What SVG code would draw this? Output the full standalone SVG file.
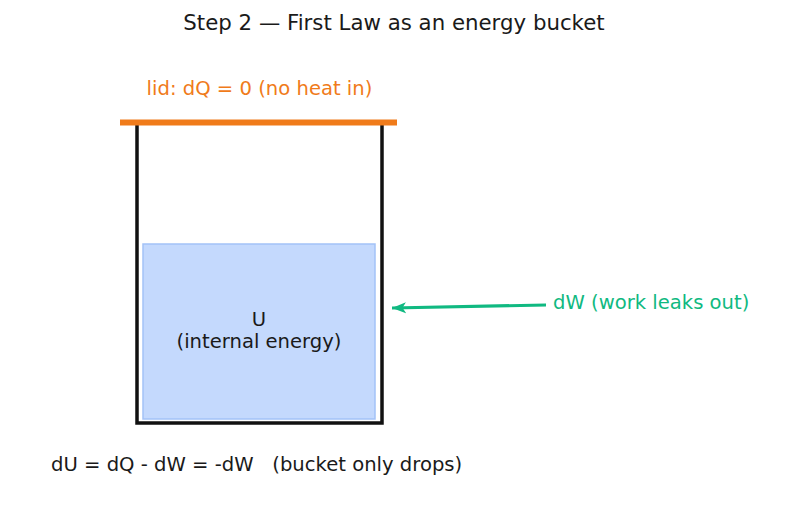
<svg xmlns="http://www.w3.org/2000/svg" width="787" height="508" viewBox="0 0 787 508">
<style>
text{font-family:"DejaVu Sans",sans-serif;}
.t{font-size:21.3px;fill:#1a1a1a;}
.l{font-size:19.6px;}
</style>
<defs>
<marker id="ah" markerWidth="15" markerHeight="13" refX="14" refY="6.5" orient="auto" markerUnits="userSpaceOnUse" viewBox="0 0 15 13">
<path d="M0,1 L14,6.5 L0,12 L3.5,6.5 Z" fill="#10b981"/>
</marker>
</defs>
<rect width="787" height="508" fill="#fff"/>
<text class="t" x="394" y="30" text-anchor="middle">Step 2 — First Law as an energy bucket</text>
<g id="bucket">
<rect x="143" y="244" width="232" height="175" fill="#c4d9fd" stroke="#a3c2f7" stroke-width="1.5"/>
<path d="M137,122 L137,423 L382,423 L382,122" fill="none" stroke="#111" stroke-width="3.5"/>
<text class="l" x="259" y="326" text-anchor="middle" fill="#1a1a1a">U</text>
<text class="l" x="259" y="348" text-anchor="middle" fill="#1a1a1a">(internal energy)</text>
</g>
<g id="lid">
<line x1="120" y1="122.5" x2="397" y2="122.5" stroke="#f07b1a" stroke-width="6"/>
<text class="l" x="259.5" y="95" text-anchor="middle" fill="#f07b1a">lid: dQ = 0 (no heat in)</text>
</g>
<g id="connectors">
<line x1="546" y1="305" x2="392" y2="308" stroke="#10b981" stroke-width="3.2" marker-end="url(#ah)"/>
</g>
<g id="work">
<text class="l" x="553" y="309" fill="#10b981">dW (work leaks out)</text>
</g>
<text class="l" x="51" y="471" fill="#1a1a1a" xml:space="preserve">dU = dQ - dW = -dW   (bucket only drops)</text>
</svg>
